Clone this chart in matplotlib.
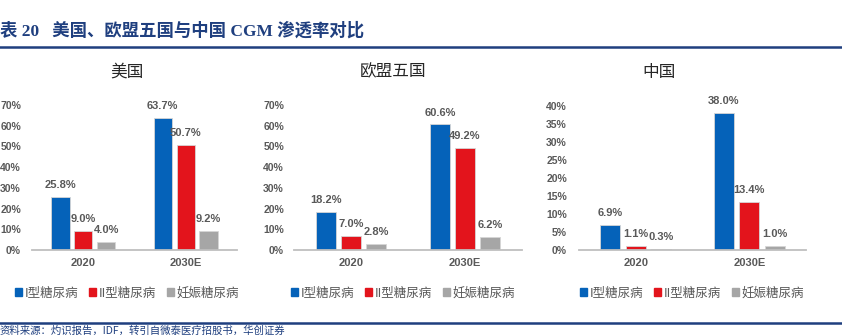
import matplotlib
matplotlib.use("Agg")
import matplotlib.pyplot as plt
from matplotlib.patches import Rectangle
from matplotlib.lines import Line2D

# ---- data ----
categories = ["2020", "2030E"]
series_names = ["I型糖尿病", "II型糖尿病", "妊娠糖尿病"]
panel_titles = ["美国", "欧盟五国", "中国"]
us_values = [[25.8, 63.7], [9.0, 50.7], [4.0, 9.2]]
eu5_values = [[18.2, 60.6], [7.0, 49.2], [2.8, 6.2]]
cn_values = [[6.9, 38.0], [1.1, 13.4], [0.3, 1.0]]
panel_values = [us_values, eu5_values, cn_values]
y_max = [70, 70, 40]
y_step = [10, 10, 5]
title_text = "表 20   美国、欧盟五国与中国 CGM 渗透率对比"
source_text = "资料来源：灼识报告，IDF，转引自微泰医疗招股书，华创证券"

colors = ["#0562B9", "#E3141C", "#A6A6A6"]
text_gray = "#595959"
navy = "#1F3F7F"

W, H = 842, 336
fig = plt.figure(figsize=(W / 100, H / 100), dpi=100)

CJK = ["Noto Sans CJK SC", "DejaVu Sans"]
NUM = ["Liberation Sans", "Noto Sans CJK SC"]

def px_axes(x0, x1, ybot, ytop):
    return fig.add_axes([x0 / W, (H - ybot) / H, (x1 - x0) / W, (ybot - ytop) / H])

# title
fig.text(0, 1 - 31 / H, title_text, fontsize=12.5, fontweight="bold", color=navy,
         family=["Liberation Serif", "Noto Sans CJK SC"], va="center", ha="left")
fig.add_artist(Line2D([0, 1], [1 - 46.5 / H, 1 - 46.5 / H], color=navy, lw=1.8,
                      transform=fig.transFigure))
fig.add_artist(Line2D([0, 1], [1 - 323 / H, 1 - 323 / H], color=navy, lw=1.8,
                      transform=fig.transFigure))
fig.text(0, 1 - 330.5 / H, source_text, fontsize=7.5, color=navy, style="italic",
         family=CJK, va="center", ha="left")

# panels: (axis x0, x1, title center x, tick pad px, offset, width, legend x)
panels = [
    (32, 237, 127, 11, 0.224, 0.18, 15),
    (294, 522, 393, 10, 0.22, 0.175, 291),
    (579, 806, 659, 12, 0.225, 0.176, 580),
]

for i, (x0, x1, tcx, pad, off, bw, lx) in enumerate(panels):
    top_px = 105 if y_max[i] == 70 else 106
    ax = px_axes(x0, x1, 250, top_px)
    vals = panel_values[i]
    for s in range(3):
        xs = [c + (s - 1) * off for c in range(len(categories))]
        ax.bar(xs, vals[s], width=bw, color=colors[s], edgecolor="#D6D6D6",
               linewidth=0.6, zorder=2)
        for xb, v in zip(xs, vals[s]):
            ax.annotate(f"{v:.1f}%", (xb, v), xytext=(0, 5), textcoords="offset points",
                        ha="center", va="bottom", fontsize=8, fontweight="bold",
                        color=text_gray, family=NUM, annotation_clip=False)
    ax.set_xlim(-0.5, len(categories) - 0.5)
    ax.set_ylim(0, y_max[i])
    ax.set_yticks(range(0, y_max[i] + 1, y_step[i]))
    ax.set_yticklabels([f"{t}%" for t in range(0, y_max[i] + 1, y_step[i])])
    ax.set_xticks(range(len(categories)))
    ax.set_xticklabels(categories)
    for lab in ax.get_yticklabels() + ax.get_xticklabels():
        lab.set_fontfamily(NUM)
        lab.set_fontweight("bold")
        lab.set_color(text_gray)
    ax.tick_params(axis="y", length=0, pad=pad * 0.72, labelsize=7.5)
    ax.tick_params(axis="x", length=0, pad=6, labelsize=8)
    for sp in ["top", "right", "left"]:
        ax.spines[sp].set_visible(False)
    ax.spines["bottom"].set_color("#BFBFBF")
    ax.spines["bottom"].set_linewidth(1.3)
    ax.patch.set_alpha(0)

    fig.text(tcx / W, 1 - 72 / H, panel_titles[i], fontsize=12, color="#262626",
             family=CJK, ha="center", va="center")

    handles = [Rectangle((0, 0), 1, 1, color=c) for c in colors]
    fig.legend(handles, series_names, loc="center left",
               bbox_to_anchor=(lx / W, 1 - 293 / H), ncol=3, frameon=False,
               prop={"family": CJK, "size": 9}, labelcolor=text_gray,
               handlelength=0.55, handleheight=0.55, handletextpad=0.2,
               columnspacing=0.9, borderpad=0, borderaxespad=0)

fig.savefig("out.png", dpi=100)
